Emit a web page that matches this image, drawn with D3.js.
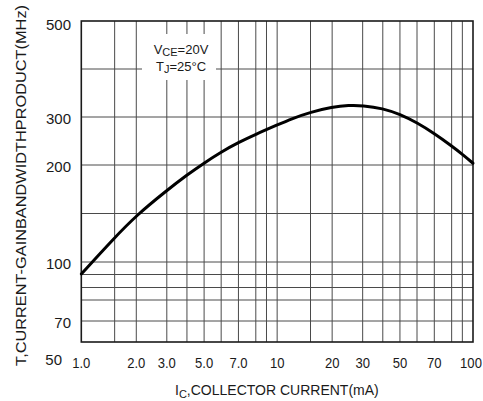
<!DOCTYPE html>
<html>
<head>
<meta charset="utf-8">
<script src="https://cdn.jsdelivr.net/npm/d3@7"></script>
<style>
  html, body { margin: 0; padding: 0; background: #fff; }
  svg { display: block; }
  text { font-family: "Liberation Sans", Arial, Helvetica, sans-serif; fill: #1a1a1a; }
</style>
</head>
<body>
<svg id="chart" width="483" height="401"></svg>
<script>
// Collector current (mA) and the gain-bandwidth product fT (MHz)
const collectorCurrent = [1, 1.5, 2, 3, 4, 5, 6, 7, 8, 10, 12, 15, 20, 25, 30, 40, 50, 60, 70, 80, 90, 100];
const gainBandwidth    = [90.4, 122.7, 147.5, 172, 188.5, 203.4, 223.2, 241.9, 259.2, 280.4, 296, 308.8, 318.5, 322, 321.5, 316, 305, 286, 261, 235, 219, 203];

// Axis labelling
const xTickValues = [1, 2, 3, 5, 7, 10, 20, 30, 50, 70, 100];
const xTickLabels = ["1.0", "2.0", "3.0", "5.0", "7.0", "10", "20", "30", "50", "70", "100"];
const yTickValues = [500, 300, 200, 100, 70, 50];
const yTickLabels = ["500", "300", "200", "100", "70", "50"];

// Grid rulings of the log paper
const xMantissas = [1, 1.5, 2, 3, 4, 5, 6, 7, 8, 9];
const yGridValues = [50, 70, 75, 80, 90, 100, 150, 200, 300, 400, 500];

// ---- layout ----
const W = 483, H = 401;
const plot = { left: 81.3, right: 473, top: 21, bottom: 342 };

// position of each mantissa inside one decade of the paper (fraction of a decade)
const decadeRuling = [0, 0.1703, 0.2808, 0.4366, 0.5394, 0.627, 0.7141, 0.8024, 0.891, 0.9456];
// vertical ruling, offsets from the top edge for each yGridValues entry
const yRuling = [321, 300, 279, 266.5, 253.5, 241, 192.5, 144, 96, 48, 0];

const decadeW = (plot.right - plot.left) / 2;
const xDomain = [], xRange = [];
for (let d = 0; d < 2; d++) {
  xMantissas.forEach((m, i) => {
    xDomain.push(m * Math.pow(10, d));
    xRange.push(plot.left + (d + decadeRuling[i]) * decadeW);
  });
}
xDomain.push(100); xRange.push(plot.right);

const x = d3.scaleLog().domain(xDomain).range(xRange);
const y = d3.scaleLog().domain(yGridValues).range(yRuling.map(o => plot.top + o));

const svg = d3.select("#chart");

// ---- grid ----
const grid = svg.append("g").attr("stroke", "#4a4a4a").attr("stroke-width", 1).attr("fill", "none");
grid.selectAll("line.v").data(xDomain.slice(1, -1)).join("line")
  .attr("class", "v")
  .attr("x1", d => x(d)).attr("x2", d => x(d))
  .attr("y1", plot.top).attr("y2", plot.bottom);
grid.selectAll("line.h").data(yGridValues.slice(1, -1)).join("line")
  .attr("class", "h")
  .attr("x1", plot.left).attr("x2", plot.right)
  .attr("y1", d => y(d)).attr("y2", d => y(d));

// ---- condition legend, on a white patch ----
svg.append("rect")
  .attr("x", 142).attr("y", 34).attr("width", 74).attr("height", 46)
  .attr("fill", "#fff");

const leg = svg.append("g").attr("font-size", 13).attr("text-anchor", "middle");
const l1 = leg.append("text").attr("x", 181).attr("y", 53.5);
l1.append("tspan").text("V");
l1.append("tspan").attr("font-size", 11).attr("dy", 2.5).text("CE");
l1.append("tspan").attr("dy", -2.5).text("=20V");
const l2 = leg.append("text").attr("x", 181).attr("y", 70.5);
l2.append("tspan").text("T");
l2.append("tspan").attr("font-size", 11).attr("dy", 2.5).text("J");
l2.append("tspan").attr("dy", -2.5).text("=25°C");

// ---- frame ----
svg.append("rect")
  .attr("x", plot.left).attr("y", plot.top)
  .attr("width", plot.right - plot.left).attr("height", plot.bottom - plot.top)
  .attr("fill", "none").attr("stroke", "#1a1a1a").attr("stroke-width", 1.6);

// ---- curve (B-spline through the readings) ----
const pts = collectorCurrent.map((c, i) => [c, gainBandwidth[i]]);
svg.append("path")
  .datum(pts)
  .attr("fill", "none").attr("stroke", "#000").attr("stroke-width", 3)
  .attr("stroke-linecap", "round")
  .attr("d", d3.line().x(d => x(d[0])).y(d => y(d[1])).curve(d3.curveBasis));

// ---- x tick labels (narrow face) ----
svg.append("g").attr("font-size", 15).attr("text-anchor", "middle")
  .selectAll("text").data(xTickValues).join("text")
  .attr("transform", d => `translate(${Math.min(x(d), 471)},368) scale(0.87,1)`)
  .text((d, i) => xTickLabels[i]);

// ---- y tick labels ----
svg.append("g").attr("font-size", 15).attr("text-anchor", "end")
  .selectAll("text").data(yTickValues).join("text")
  .attr("x", d => d === 50 ? 62 : 71)
  .attr("y", d => d === 50 ? 365 : Math.max(y(d) + 2, 25) + 5.3)
  .text((d, i) => yTickLabels[i]);

// ---- axis titles ----
const xt = svg.append("text").attr("font-size", 14).attr("x", 175).attr("y", 395);
xt.append("tspan").text("I");
xt.append("tspan").attr("font-size", 11).attr("dy", 3).text("C");
xt.append("tspan").attr("dy", -3).text(",COLLECTOR CURRENT(mA)");

svg.append("text")
  .attr("font-size", 14.5)
  .attr("text-anchor", "middle")
  .attr("transform", "translate(26,185.5) rotate(-90)")
  .attr("textLength", 361).attr("lengthAdjust", "spacingAndGlyphs")
  .text("T,CURRENT-GAINBANDWIDTHPRODUCT(MHz)");
</script>
</body>
</html>
